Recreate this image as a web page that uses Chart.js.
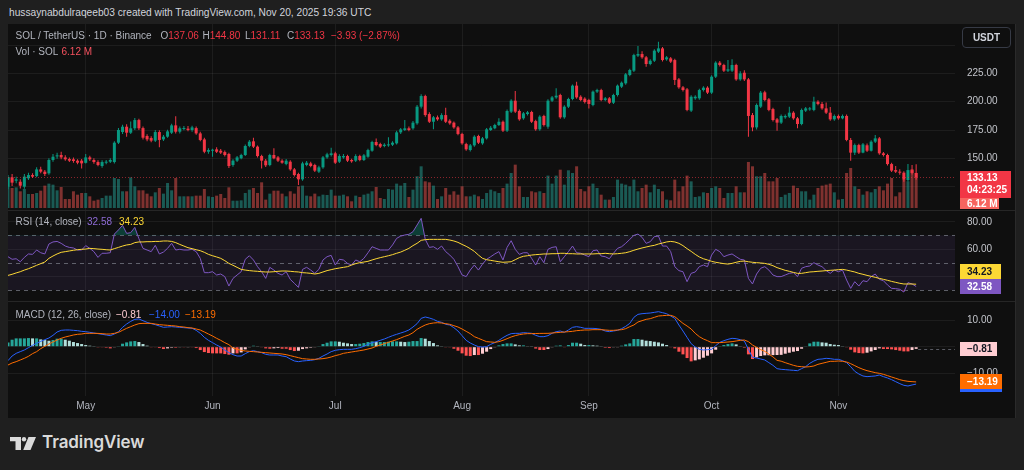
<!DOCTYPE html>
<html><head><meta charset="utf-8"><title>SOL / TetherUS</title>
<script src="https://cdn.jsdelivr.net/npm/chart.js@4.4.1/dist/chart.umd.min.js"></script>
<style>
*{box-sizing:border-box}
html,body{margin:0;padding:0;width:1024px;height:470px;overflow:hidden;background:#1f1f1f;font-family:'Liberation Sans',Arial,sans-serif;}
#frame{position:absolute;left:8px;top:24px;width:1008px;height:394px;background:#0f0f0f;overflow:hidden;border-right:1px solid #2a2a2a;}
#frame canvas{position:absolute;left:0;}
.sep{position:absolute;left:0;width:1008px;height:1px;background:#262626;}
.t{position:absolute;white-space:nowrap;font-size:10px;line-height:12px;}
.g{color:#b2b5be}
.r{color:#f23645}
.box{position:absolute;left:960px;font-size:10px;font-weight:bold;padding-left:7px;white-space:nowrap;}
</style></head><body>
<div class="t" style="left:9px;top:7px;color:#d1d4dc;font-size:10.2px;">hussaynabdulraqeeb03 created with TradingView.com, Nov 20, 2025 19:36 UTC</div>
<div id="frame">
 <canvas id="cPrice" width="1008" height="186" style="top:0"></canvas>
 <canvas id="cRsi" width="1008" height="91" style="top:186px"></canvas>
 <canvas id="cMacd" width="1008" height="117" style="top:277px"></canvas>
 <div class="sep" style="top:186px"></div>
 <div class="sep" style="top:277px"></div>
</div>
<!-- legends -->
<div class="t g" style="left:15.5px;top:30px">SOL / TetherUS · 1D · Binance</div>
<div class="t" style="left:160.5px;top:30px"><span class="g">O</span><span class="r">137.06</span></div>
<div class="t" style="left:202.5px;top:30px"><span class="g">H</span><span class="r">144.80</span></div>
<div class="t" style="left:245px;top:30px"><span class="g">L</span><span class="r">131.11</span></div>
<div class="t" style="left:287px;top:30px"><span class="g">C</span><span class="r">133.13</span></div>
<div class="t r" style="left:331px;top:30px">−3.93 (−2.87%)</div>
<div class="t g" style="left:15.5px;top:46px">Vol · SOL</div>
<div class="t" style="left:61.5px;top:46px;color:#f7525f">6.12 M</div>
<div class="t g" style="left:15.5px;top:216px">RSI (14, close)</div>
<div class="t" style="left:87px;top:216px;color:#8e6bd6">32.58</div>
<div class="t" style="left:119px;top:216px;color:#fdd835">34.23</div>
<div class="t g" style="left:15.5px;top:309px">MACD (12, 26, close)</div>
<div class="t" style="left:116px;top:309px;color:#ffcdd2">−0.81</div>
<div class="t" style="left:149px;top:309px;color:#2962ff">−14.00</div>
<div class="t" style="left:185px;top:309px;color:#ff6d00">−13.19</div>
<div style="position:absolute;left:962px;top:27px;width:49px;height:21px;border:1px solid #363a45;border-radius:4px;color:#d1d4dc;font-size:10px;font-weight:bold;line-height:19px;text-align:center;">USDT</div>
<!-- last value labels -->
<div class="box" id="bPrice" style="width:51px;height:27px;background:#f23645;color:#fff;line-height:12px;padding-top:1px;">133.13<br>04:23:25</div>
<div class="box" id="bVol" style="width:39px;height:11px;background:#f7645f;color:#fff;line-height:11px;">6.12 M</div>
<div class="box" id="bRsiMa" style="width:41px;height:15px;background:#fdd835;color:#131722;line-height:15px;">34.23</div>
<div class="box" id="bRsi" style="width:41px;height:15px;background:#7e57c2;color:#fff;line-height:15px;">32.58</div>
<div class="box" id="bHist" style="width:37px;height:14px;background:#ffcdd2;color:#131722;line-height:14px;">−0.81</div>
<div class="box" id="bSig" style="width:42px;height:15px;background:#ff6d00;color:#fff;line-height:15px;">−13.19</div>
<div class="box" id="bMacd" style="width:42px;height:3px;background:#2962ff;"></div>
<!-- footer logo -->
<svg style="position:absolute;left:10px;top:437px" width="26" height="13" viewBox="0 0 26 13">
 <path d="M0 0H11V13H5.5V4.2H0Z" fill="#dadada"/>
 <circle cx="14" cy="2.2" r="2.2" fill="#dadada"/>
 <path d="M18.5 0H26L20.5 13H13.2Z" fill="#dadada"/>
</svg>
<div style="position:absolute;left:42px;top:431px;font-family:Inter,'Liberation Sans',sans-serif;font-weight:600;font-size:17px;line-height:22px;color:#dadada;letter-spacing:-0.1px;">TradingView</div>

<script>
// ---------------- data ----------------
const startDate = [2025, 3, 12]; // 12 Apr 2025 (UTC)
const monthNames = ['Jan','Feb','Mar','Apr','May','Jun','Jul','Aug','Sep','Oct','Nov','Dec'];

const opens = [
124.9,133.2,130.2,129.3,124.9,132.3,135.2,134.3,140.2,138.2,
136.7,148.5,151.7,152.9,150.8,149.4,149.1,147.9,147.9,146.0,
150.8,148.5,146.7,143.2,146.1,147.0,146.7,163.8,173.2,177.9,
172.6,176.5,183.8,176.7,169.7,167.9,165.6,173.2,166.7,169.1,
172.6,179.1,173.5,175.9,176.2,175.0,176.7,172.0,166.7,155.8,
156.7,157.9,156.7,155.5,153.8,144.1,147.9,150.0,152.9,160.9,
165.0,160.3,152.0,147.9,144.1,152.9,150.8,147.9,145.0,147.0,
140.2,136.1,131.4,144.1,145.5,144.1,138.2,142.0,150.8,152.9,
154.4,147.0,150.8,152.0,148.5,147.9,152.0,148.5,151.4,156.7,
164.4,162.6,160.9,161.4,162.0,163.2,172.9,175.0,176.5,176.5,
180.9,195.6,205.0,189.1,182.3,186.2,184.4,188.2,183.2,181.5,
177.3,171.5,162.6,157.3,161.4,169.7,163.2,167.6,175.0,176.5,
179.4,182.3,174.4,191.2,200.9,191.8,185.3,189.1,190.9,182.9,
175.6,187.4,177.9,200.9,203.8,205.9,186.2,195.6,202.4,214.2,
204.4,202.7,201.5,197.1,208.9,210.3,201.5,203.0,199.1,205.9,
213.3,216.2,223.6,227.4,240.7,242.1,239.2,233.3,236.2,244.2,
247.1,237.4,238.3,236.8,219.7,212.7,210.9,192.1,203.0,203.0,
210.3,212.4,208.0,222.1,234.5,232.4,227.4,227.4,232.4,219.7,
225.6,219.7,188.2,177.3,195.6,208.3,202.1,193.5,184.4,181.5,
186.2,186.8,190.3,185.3,180.3,192.1,193.2,192.7,200.0,198.0,
194.1,190.3,184.4,187.4,185.3,187.4,166.2,155.0,161.7,155.0,
161.5,156.7,164.7,167.6,154.4,152.9,144.9,139.6,138.2,137.3,
130.8,139.6,137.06];

const highs = [
135.2,136.1,133.8,131.4,136.1,137.3,136.7,142.0,142.6,139.6,
150.0,153.8,155.0,155.8,152.6,150.8,150.8,149.1,149.4,153.8,
152.3,150.0,148.2,148.2,148.5,150.0,165.0,176.8,179.7,180.0,
182.6,185.6,185.0,178.2,171.2,169.4,175.0,174.7,170.6,175.3,
180.6,187.1,178.2,178.5,178.5,178.8,178.2,173.5,168.2,158.8,
158.5,159.7,158.2,157.0,155.0,149.1,152.0,154.1,162.3,166.2,
168.2,161.4,153.2,149.4,154.1,158.8,152.0,149.1,149.4,148.2,
141.4,137.3,147.0,147.6,147.0,145.2,143.5,152.0,155.0,159.4,
155.8,153.5,153.8,153.2,149.7,153.5,153.2,153.8,158.5,165.6,
167.6,163.8,163.2,168.5,165.0,174.4,176.8,183.8,178.2,182.9,
197.1,206.5,206.2,190.6,187.4,187.7,189.7,194.7,184.4,182.6,
178.5,172.6,163.8,162.6,170.3,170.9,168.8,176.8,178.5,180.6,
185.3,183.5,193.0,202.1,209.4,193.0,190.9,191.8,192.1,184.1,
188.0,188.5,202.1,205.0,211.8,207.1,196.8,203.6,215.3,217.7,
205.6,203.9,202.7,210.0,211.5,211.5,204.1,204.1,207.1,215.3,
217.9,225.3,229.2,242.4,249.2,244.5,240.4,237.4,246.3,253.0,
248.3,240.4,239.5,238.0,220.9,213.9,212.1,205.6,205.6,211.5,
213.6,213.6,223.3,235.7,236.0,233.6,236.8,237.4,233.6,226.8,
227.7,221.0,190.0,198.5,209.4,209.7,203.3,194.7,185.6,188.6,
188.6,195.6,191.5,186.5,193.9,195.3,195.3,204.4,201.2,199.7,
199.2,195.3,188.6,188.6,188.6,188.6,167.9,163.0,162.9,163.5,
163.0,165.9,170.6,168.8,155.6,154.1,146.1,143.2,140.3,138.5,
144.9,144.1,144.80];

const lows = [
122.6,125.5,127.9,123.4,123.1,130.8,132.6,133.2,136.7,134.3,
135.5,147.0,149.7,149.1,147.9,146.7,146.1,144.7,141.1,145.4,
147.6,145.2,142.9,141.7,144.7,145.8,145.5,162.6,171.5,169.1,
171.5,174.9,175.0,166.7,165.0,164.1,164.4,159.7,165.3,168.2,
171.5,172.0,172.0,174.7,173.8,173.5,170.9,165.0,154.4,154.1,
151.4,154.7,153.8,151.7,141.4,142.6,146.7,149.1,152.0,159.7,
159.1,150.8,141.1,142.3,142.9,149.1,146.7,145.2,143.8,139.0,
134.0,126.4,130.2,142.9,142.0,137.9,137.0,140.8,149.7,151.7,
145.0,145.8,149.7,146.7,146.1,146.7,147.3,147.6,150.5,155.8,
160.6,159.1,159.7,160.3,160.9,162.3,171.5,174.1,173.8,175.3,
179.7,194.1,186.8,181.2,175.6,183.2,183.2,181.2,179.7,176.2,
170.3,162.0,156.7,156.1,160.3,162.6,162.0,166.7,174.1,175.6,
178.5,173.2,173.2,190.0,190.0,183.2,184.1,187.9,181.2,174.4,
174.4,178.2,176.2,199.7,202.6,185.0,185.0,194.4,201.2,202.6,
200.3,198.5,194.1,195.9,207.7,200.3,200.3,198.0,198.0,204.7,
212.1,215.0,222.4,226.2,239.5,238.0,230.9,232.1,235.0,243.0,
235.6,236.2,234.2,214.7,211.5,209.1,191.5,190.9,201.8,201.8,
209.1,206.8,206.8,220.9,231.2,226.2,226.2,226.2,218.5,218.5,
218.3,169.1,174.0,175.5,194.4,200.3,191.5,182.6,174.4,180.3,
185.0,185.6,184.1,176.5,179.1,190.9,192.0,191.5,196.8,192.9,
189.1,183.2,183.2,184.1,184.5,165.0,147.9,152.9,153.8,154.4,
155.5,156.1,163.5,153.2,151.7,143.7,137.9,137.0,135.5,129.3,
129.6,135.8,131.11];

const closes = [
133.2,128.5,131.4,125.8,133.8,135.2,133.8,140.2,138.2,136.1,
148.5,151.4,152.6,150.8,149.1,147.9,147.6,146.1,145.5,150.8,
149.1,146.7,144.1,146.7,147.0,148.5,163.8,175.0,177.9,172.6,
176.5,183.8,176.5,168.2,166.7,165.6,173.2,166.2,169.1,173.8,
179.1,173.5,176.5,176.7,175.0,177.3,172.0,166.2,155.8,157.3,
157.3,155.8,155.0,152.9,143.2,147.9,150.8,152.9,160.9,164.7,
160.3,152.0,147.9,143.8,152.9,150.0,147.9,146.1,147.9,140.2,
135.2,131.4,145.5,146.1,143.2,139.1,142.0,150.8,153.5,154.4,
146.1,152.0,152.0,147.9,147.3,152.0,148.5,152.6,157.3,164.4,
161.7,160.3,162.0,162.3,163.8,172.9,175.6,176.5,175.0,181.5,
195.6,205.0,188.2,182.3,186.2,184.4,188.2,182.3,180.9,177.3,
171.5,163.2,157.9,161.4,169.1,163.8,167.6,175.6,177.0,179.4,
182.3,174.4,191.8,200.9,191.2,184.4,189.7,190.6,182.3,175.6,
186.8,179.4,200.9,203.8,205.3,186.2,195.6,202.4,214.2,203.8,
201.5,199.7,198.0,208.9,210.3,201.5,203.0,199.1,205.9,214.2,
216.8,224.2,228.0,241.2,242.1,239.2,233.3,236.2,245.1,247.1,
236.8,239.2,235.4,219.2,212.7,210.3,192.7,204.4,204.4,210.3,
212.4,208.0,222.1,234.5,232.4,227.4,228.6,232.4,219.7,225.0,
219.7,187.4,177.3,197.1,208.0,201.5,192.7,183.8,181.5,187.4,
187.4,190.3,185.3,180.3,192.7,194.1,194.1,200.0,198.0,194.1,
190.3,184.4,187.4,185.3,187.4,166.2,155.0,161.7,155.0,162.3,
156.7,164.7,167.6,154.4,152.9,144.9,139.1,138.2,137.3,131.4,
139.6,137.06,133.13];

// volume, millions of SOL
const volumes = [
5.42,3.50,3.61,2.92,3.32,2.45,2.45,2.62,3.03,3.91,
4.26,4.08,3.09,3.67,1.57,1.57,2.92,2.33,2.62,2.62,
2.04,1.28,1.46,1.75,2.16,2.16,5.25,5.07,2.92,2.92,
5.36,3.79,3.09,3.09,2.51,2.04,2.74,3.50,2.51,4.37,
3.09,5.25,2.04,2.04,2.04,2.04,2.16,2.16,3.32,2.04,
1.92,2.16,2.45,1.75,3.61,1.28,1.28,1.34,2.62,3.21,
3.50,2.62,4.49,1.46,2.51,3.03,3.03,2.51,2.04,2.92,
2.51,3.79,3.91,2.16,2.04,2.51,2.04,2.33,2.27,3.21,
2.16,2.16,2.33,2.04,1.17,2.16,1.92,2.33,2.51,2.92,
3.67,1.75,1.57,3.32,3.21,4.26,3.91,4.37,1.92,3.21,
5.54,7.29,4.66,4.49,3.91,1.57,2.04,3.50,2.33,2.92,
2.33,3.79,2.04,2.04,2.33,2.04,1.57,2.62,3.21,2.92,
2.62,3.50,4.26,6.12,7.58,3.79,1.92,1.92,2.92,2.74,
2.92,2.62,5.66,4.26,5.66,6.70,4.08,6.59,6.12,7.29,
3.32,2.92,3.79,4.26,3.50,2.33,1.46,1.46,1.92,4.96,
4.26,4.08,3.79,4.96,2.92,3.50,4.08,2.74,4.08,3.32,
2.92,1.46,1.34,4.96,2.92,3.79,5.66,4.66,1.92,2.04,
2.74,2.62,3.50,3.79,3.50,1.75,2.62,2.62,3.79,2.74,
2.74,8.05,7.29,5.54,5.54,6.12,4.66,4.66,5.25,1.92,
2.33,2.62,3.91,3.50,2.92,2.92,1.46,2.33,3.50,3.91,
4.08,4.26,2.74,1.46,1.57,6.12,7.00,3.79,3.32,2.33,
2.92,2.74,3.32,3.79,3.09,4.26,5.25,2.04,2.74,5.07,
4.66,6.82,6.12];

const rsi = [
54.4,52.5,52.9,50.7,53.9,56.4,56.1,59.3,57.3,56.4,
63.7,65.2,65.6,64.2,62.2,61.2,60.8,59.3,59.3,62.5,
60.5,58.1,53.9,56.9,56.9,57.3,71.0,74.0,77.4,71.5,
72.0,75.9,67.6,60.5,59.3,58.1,62.7,56.4,57.8,60.5,
64.2,59.3,59.8,59.3,59.3,59.8,58.1,53.2,42.7,42.7,
43.4,41.0,41.7,39.8,32.9,38.5,41.0,43.4,52.5,55.1,
52.0,47.1,43.4,38.5,46.6,44.6,42.2,41.0,43.4,37.8,
34.9,31.9,45.1,46.6,44.6,42.2,45.1,52.0,54.4,55.4,
48.3,52.5,52.0,49.5,48.3,52.0,50.7,53.2,57.3,61.7,
60.5,59.3,59.3,59.3,63.0,67.8,69.5,70.3,70.8,72.7,
77.6,82.5,67.1,61.2,61.7,59.8,62.2,58.1,55.6,52.5,
47.1,41.0,39.8,44.6,48.3,44.6,49.0,52.5,54.4,56.4,
58.1,52.0,61.2,66.1,59.8,56.1,57.3,57.3,53.2,48.3,
54.4,50.0,59.8,61.2,61.7,50.7,54.4,58.1,62.2,57.3,
56.9,55.6,54.4,58.8,59.3,54.9,54.4,52.9,56.9,60.5,
61.7,64.2,67.1,70.0,71.0,68.6,64.2,65.4,69.1,69.5,
62.2,62.2,58.1,47.1,44.2,43.4,36.1,42.2,43.2,47.1,
48.3,47.1,55.6,59.8,58.1,54.4,55.6,56.4,54.4,52.5,
52.0,38.5,34.4,41.7,45.9,47.1,44.6,41.0,39.8,39.8,
41.0,42.2,42.7,39.8,45.9,47.1,47.6,50.0,48.3,47.1,
44.2,42.2,44.6,43.4,44.6,37.3,31.2,36.1,32.9,36.8,
36.1,39.8,41.7,37.8,36.8,33.7,31.2,31.0,30.5,28.5,
35.4,34.4,32.58];

const rsiMA = [
40.7,41.5,42.5,43.4,44.6,45.6,46.8,48.1,49.3,50.5,
53.2,54.9,56.4,57.6,58.1,58.6,59.1,59.5,59.8,60.0,
60.5,60.3,60.0,59.8,59.5,59.3,60.3,61.2,62.2,63.0,
63.4,64.7,65.2,65.2,65.4,65.4,65.6,65.6,65.9,65.9,
65.6,64.7,63.4,62.2,61.0,60.3,59.5,58.8,57.6,56.1,
55.1,54.2,53.2,51.5,49.5,48.1,46.6,45.1,44.6,44.2,
43.9,43.7,43.4,43.2,43.2,43.4,43.7,43.9,43.9,43.7,
43.4,43.2,42.7,42.5,42.2,41.7,42.2,43.2,44.2,44.9,
45.6,46.1,46.6,47.1,48.3,49.3,50.0,50.5,51.0,52.0,
52.9,53.7,54.4,55.1,55.9,56.9,57.8,59.1,60.5,62.5,
64.2,66.4,66.9,67.1,67.1,67.1,67.1,67.1,66.6,65.9,
64.9,63.4,62.0,60.3,58.3,55.6,53.2,52.2,51.7,51.2,
50.7,50.3,50.5,50.7,52.2,53.7,54.7,55.1,55.6,55.9,
56.1,56.4,56.4,56.6,56.6,56.9,56.9,56.6,56.6,56.4,
56.4,56.4,56.4,56.4,56.6,56.6,56.9,56.6,56.4,56.6,
56.9,57.3,58.1,59.1,60.0,60.8,61.5,62.2,62.7,63.7,
64.4,65.2,65.6,65.2,64.2,62.5,60.3,58.3,56.1,54.2,
52.9,52.0,51.0,50.3,49.8,49.3,49.0,49.5,50.3,51.0,
51.2,50.7,50.3,50.0,49.8,49.5,48.8,47.8,46.4,45.4,
44.4,43.7,42.9,42.2,42.2,42.7,43.2,43.4,43.7,43.9,
44.2,44.4,44.6,44.9,45.1,44.6,43.9,43.2,42.2,41.5,
40.7,40.0,39.3,38.5,37.8,37.1,36.3,35.6,34.9,34.4,
34.4,34.4,34.23];

const macd = [
-5.22,-3.48,-2.48,-1.85,-1.23,-0.36,0.52,1.27,2.01,2.64,
3.26,4.26,5.51,6.13,6.26,6.26,6.13,6.01,5.76,5.63,
5.38,5.13,4.89,4.64,4.39,4.14,4.76,5.63,7.26,8.50,
9.50,10.25,10.38,9.75,9.13,8.63,8.26,7.76,7.26,7.38,
7.51,7.38,7.26,7.13,7.01,6.88,6.13,5.01,3.51,2.39,
1.52,0.64,-0.11,-1.23,-2.23,-2.98,-3.48,-3.48,-2.60,-1.85,
-1.48,-1.85,-2.23,-2.85,-3.10,-3.10,-3.10,-3.48,-3.73,-4.60,
-5.35,-5.60,-5.35,-5.22,-5.10,-4.85,-4.35,-3.48,-2.73,-1.85,
-1.35,-1.11,-0.98,-0.98,-0.98,-0.73,-0.36,0.14,0.89,1.52,
1.89,2.39,2.89,3.51,4.14,4.64,5.13,5.63,6.26,7.38,
8.63,10.63,11.13,10.75,10.25,9.50,9.13,8.38,8.13,7.13,
5.88,4.14,2.39,1.39,0.64,0.02,-0.11,0.02,0.89,1.52,
2.39,3.39,4.26,4.89,5.01,5.01,5.26,5.13,5.01,4.26,
3.76,3.76,4.14,5.01,5.63,5.88,5.38,6.26,7.26,7.51,
7.26,6.88,6.88,6.88,6.76,6.51,5.88,5.63,5.88,6.13,
6.76,7.63,8.75,11.00,12.12,12.37,12.50,12.62,12.87,13.12,
12.75,12.37,11.50,10.63,8.13,5.88,3.51,1.14,-0.11,-0.98,
-1.23,-1.11,-0.98,0.39,1.64,2.26,2.76,3.14,3.01,2.64,
2.14,-0.98,-3.98,-4.23,-4.60,-4.97,-5.97,-6.97,-8.22,-8.47,
-8.59,-8.72,-8.84,-8.97,-8.22,-7.47,-6.22,-5.35,-4.72,-4.60,
-4.35,-4.47,-4.72,-4.72,-5.22,-5.97,-7.47,-9.22,-10.22,-10.96,
-11.21,-11.09,-10.96,-10.59,-11.21,-11.71,-12.34,-13.09,-13.83,-14.46,
-14.71,-14.33,-14.00];

const signal = [
-6.85,-6.10,-5.60,-4.97,-4.35,-3.60,-2.60,-1.85,-0.73,0.14,
1.02,1.77,2.51,3.14,3.64,4.01,4.39,4.64,4.76,5.01,
5.01,5.01,4.99,4.89,4.76,4.76,5.01,5.38,6.13,6.88,
7.51,8.13,8.63,8.75,8.75,8.75,8.50,8.26,8.13,8.01,
7.88,7.76,7.51,7.38,7.13,7.01,6.63,6.26,5.51,4.76,
4.01,3.14,2.39,1.52,0.77,-0.48,-0.98,-1.35,-1.60,-1.73,
-1.85,-1.98,-2.10,-2.23,-2.35,-2.48,-2.60,-2.73,-2.98,-3.35,
-3.73,-4.10,-4.47,-4.60,-4.72,-4.72,-4.60,-4.47,-4.23,-3.85,
-3.35,-2.98,-2.48,-2.23,-1.98,-1.73,-1.48,-1.23,-0.86,-0.48,
0.14,0.64,1.14,1.64,2.14,2.64,3.26,3.89,4.39,5.26,
6.51,7.38,8.13,8.63,8.88,9.00,8.88,8.63,8.38,7.88,
7.38,6.63,5.76,4.89,3.76,3.14,2.51,1.89,1.77,1.64,
1.89,2.39,3.01,3.64,4.14,4.51,4.76,4.89,4.89,4.95,
4.98,5.00,5.01,5.13,5.26,5.38,5.51,5.63,5.76,6.01,
6.13,6.26,6.26,6.38,6.38,6.38,6.26,6.13,6.13,6.26,
6.38,6.76,7.51,8.13,9.25,9.75,10.25,10.50,11.00,11.50,
11.62,11.75,11.75,11.25,10.00,8.75,7.76,6.63,5.01,3.76,
2.89,2.26,1.52,1.52,1.52,1.64,1.77,1.89,2.14,2.39,
2.51,1.89,0.64,-0.23,-1.11,-1.73,-2.77,-3.82,-5.12,-5.42,
-5.97,-6.47,-6.97,-7.35,-7.47,-7.60,-7.47,-7.22,-6.60,-6.22,
-5.85,-5.47,-5.47,-5.35,-5.47,-5.72,-6.35,-7.10,-7.84,-8.47,
-8.97,-9.34,-9.72,-9.97,-10.34,-10.84,-11.34,-11.84,-12.34,-12.71,
-12.96,-13.09,-13.19];

const hist = [
1.62,2.62,3.12,3.12,3.12,3.24,3.12,3.12,2.74,2.50,
2.24,2.50,3.00,3.00,2.62,2.25,1.75,1.37,1.00,0.62,
0.37,0.12,-0.10,-0.25,-0.37,-0.62,-0.25,0.25,1.13,1.62,
1.99,2.12,1.75,1.00,0.38,-0.12,-0.24,-0.50,-0.87,-0.63,
-0.37,-0.38,-0.25,-0.25,-0.12,-0.13,-0.50,-1.25,-2.00,-2.37,
-2.49,-2.50,-2.50,-2.75,-3.00,-2.50,-2.50,-2.13,-1.00,-0.12,
0.37,0.13,-0.13,-0.62,-0.75,-0.62,-0.50,-0.75,-0.75,-1.25,
-1.62,-1.50,-0.88,-0.62,-0.38,-0.13,0.25,0.99,1.50,2.00,
2.00,1.87,1.50,1.25,1.00,1.00,1.12,1.37,1.75,2.00,
1.75,1.75,1.75,1.87,2.00,2.00,1.87,1.74,1.87,2.12,
2.12,3.25,3.00,2.12,1.37,0.50,0.25,-0.25,-0.25,-0.75,
-1.50,-2.49,-3.37,-3.50,-3.12,-3.12,-2.62,-1.87,-0.88,-0.12,
0.50,1.00,1.25,1.25,0.87,0.50,0.50,0.24,0.12,-0.69,
-1.22,-1.24,-0.87,-0.12,0.37,0.50,-0.13,0.63,1.50,1.50,
1.13,0.62,0.62,0.50,0.38,0.13,-0.38,-0.50,-0.25,-0.13,
0.38,0.87,1.24,2.87,2.87,2.62,2.25,2.12,1.87,1.62,
1.13,0.62,-0.25,-0.62,-1.87,-2.87,-4.25,-5.49,-5.12,-4.74,
-4.12,-3.37,-2.50,-1.13,0.12,0.62,0.99,1.25,0.87,0.25,
-0.37,-2.87,-4.62,-4.00,-3.49,-3.24,-3.20,-3.15,-3.10,-3.05,
-2.62,-2.25,-1.87,-1.62,-0.75,0.13,1.25,1.87,1.88,1.62,
1.50,1.00,0.75,0.63,0.25,-0.25,-1.12,-2.12,-2.38,-2.49,
-2.24,-1.75,-1.24,-0.62,-0.87,-0.87,-1.00,-1.25,-1.49,-1.75,
-1.75,-1.24,-0.81];

// axis tick values
const priceTicks = [125, 150, 175, 200, 225, 250];
const priceLabelTicks = [150, 175, 200, 225];
const rsiTicks = [40, 60, 80];
const rsiLabelTicks = [60, 80];
const rsiLevels = [70, 50, 30];
const macdTicks = [-10, 0, 10];
const macdLabelTicks = [-10, 10];

// ---------------- layout (pane ranges) ----------------
const X_RANGE = [1.0, 232.5];
const PRICE_RANGE = [104.33, 268.64];
const VOL_RANGE = [-0.35, 32.17];
const RSI_RANGE = [21.94, 88.61];
const MACD_RANGE = [-18.46, 17.12];
const AXIS_W = 61;

const N = closes.length;
const idx = closes.map((_, k) => k + 1);
const dates = idx.map(i => new Date(Date.UTC(startDate[0], startDate[1], startDate[2] + i - 1)));
const monthTicks = [];
dates.forEach((d, k) => { if (d.getUTCDate() === 1) monthTicks.push({ value: k + 1, label: monthNames[d.getUTCMonth()] }); });

const UP = '#089981', DN = '#f23645';
const candleCol = idx.map((_, k) => closes[k] >= opens[k] ? UP : DN);
const volCol = idx.map((_, k) => closes[k] >= opens[k] ? 'rgba(38,166,154,0.5)' : 'rgba(239,83,80,0.5)');
const histCol = hist.map((h, k) => {
  const p = k > 0 ? hist[k - 1] : h;
  return h >= 0 ? (h >= p ? '#26a69a' : '#b2dfdb') : (h <= p ? '#ff5252' : '#ffcdd2');
});
const pts = arr => arr.map((v, k) => ({ x: idx[k], y: v }));
const fmt = v => (v < 0 ? '\u2212' : '') + Math.abs(v).toFixed(2);

Chart.defaults.font.family = "'Liberation Sans', Arial, sans-serif";
Chart.defaults.font.size = 10;
Chart.defaults.color = '#b2b5be';

const GRID = 'rgba(255,255,255,0.06)';
function xScale(showLabels) {
  return {
    type: 'linear', min: X_RANGE[0], max: X_RANGE[1], offset: false,
    afterBuildTicks: s => { s.ticks = monthTicks.map(t => ({ value: t.value })); },
    ticks: { display: showLabels, autoSkip: false, maxRotation: 0, padding: 4, color: '#b2b5be',
      callback: v => { const t = monthTicks.find(m => m.value === v); return t ? t.label : ''; } },
    grid: { color: GRID, drawTicks: false, offset: false },
    border: { display: false },
    afterFit: s => { s.height = showLabels ? 22 : 0; s.paddingLeft = 0; s.paddingRight = 0; }
  };
}
function yScale(range, ticks, labelTicks) {
  return {
    position: 'right', min: range[0], max: range[1],
    afterBuildTicks: s => { s.ticks = ticks.map(v => ({ value: v })); },
    ticks: { color: '#c3c5cb', padding: 12, callback: v => labelTicks.includes(v) ? fmt(v) : '' },
    grid: { color: GRID, drawTicks: false },
    border: { display: false },
    afterFit: s => { s.width = AXIS_W; s.paddingTop = 0; s.paddingBottom = 0; }
  };
}
const base = {
  responsive: false, animation: false, devicePixelRatio: 1, events: [],
  layout: { padding: 0 },
  plugins: { legend: { display: false }, tooltip: { enabled: false } }
};
function hLine(ctx, x0, x1, y, color, dash) {
  ctx.save(); ctx.strokeStyle = color; ctx.lineWidth = 1; ctx.setLineDash(dash);
  ctx.beginPath(); ctx.moveTo(x0, Math.round(y) + 0.5); ctx.lineTo(x1, Math.round(y) + 0.5); ctx.stroke();
  ctx.restore();
}

// ---------------- price + volume ----------------
const priceChart = new Chart(document.getElementById('cPrice'), {
  data: { datasets: [
    { type: 'bar', yAxisID: 'yv', data: pts(volumes), backgroundColor: volCol, barThickness: 3, grouped: false, inflateAmount: 0, order: 3 },
    { type: 'bar', yAxisID: 'y', data: idx.map((x, k) => ({ x, y: [lows[k], highs[k]] })), backgroundColor: candleCol, barThickness: 1, grouped: false, inflateAmount: 0, order: 2 },
    { type: 'bar', yAxisID: 'y', data: idx.map((x, k) => ({ x, y: [opens[k], closes[k]] })), backgroundColor: candleCol, barThickness: 3, minBarLength: 1, grouped: false, inflateAmount: 0, order: 1 }
  ] },
  options: Object.assign({}, base, {
    scales: {
      x: xScale(false),
      y: yScale(PRICE_RANGE, priceTicks, priceLabelTicks),
      yv: { display: false, min: VOL_RANGE[0], max: VOL_RANGE[1] }
    }
  }),
  plugins: [{ id: 'lastPrice', afterDatasetsDraw(c) {
    const a = c.chartArea;
    hLine(c.ctx, a.left, a.right, c.scales.y.getPixelForValue(closes[N - 1]), 'rgba(242,54,69,0.55)', [1, 2]);
  } }]
});

// ---------------- RSI ----------------
const rsiChart = new Chart(document.getElementById('cRsi'), {
  type: 'line',
  data: { datasets: [
    { data: pts(rsiMA), borderColor: '#fdd835', borderWidth: 1, pointRadius: 0, fill: false, order: 1 },
    { data: pts(rsi), borderColor: '#7e57c2', borderWidth: 1, pointRadius: 0, order: 2,
      fill: { target: { value: rsiLevels[0] }, above: 'rgba(8,153,129,0.35)', below: 'rgba(0,0,0,0)' } },
    { data: pts(rsi), borderColor: 'rgba(0,0,0,0)', borderWidth: 0, pointRadius: 0, order: 3,
      fill: { target: { value: rsiLevels[2] }, above: 'rgba(0,0,0,0)', below: 'rgba(242,54,69,0.35)' } }
  ] },
  options: Object.assign({}, base, {
    scales: { x: xScale(false), y: yScale(RSI_RANGE, rsiTicks, rsiLabelTicks) }
  }),
  plugins: [{ id: 'rsiBand', beforeDatasetsDraw(c) {
    const s = c.scales.y, a = c.chartArea, ctx = c.ctx;
    const y1 = s.getPixelForValue(rsiLevels[0]), y3 = s.getPixelForValue(rsiLevels[2]);
    ctx.save(); ctx.fillStyle = 'rgba(126,87,194,0.1)'; ctx.fillRect(a.left, y1, a.right - a.left, y3 - y1); ctx.restore();
    rsiLevels.forEach(l => hLine(ctx, a.left, a.right, s.getPixelForValue(l), 'rgba(120,123,134,0.75)', [4, 4]));
  } }]
});

// ---------------- MACD ----------------
const macdChart = new Chart(document.getElementById('cMacd'), {
  data: { datasets: [
    { type: 'bar', data: pts(hist), backgroundColor: histCol, barThickness: 3, grouped: false, inflateAmount: 0, order: 3 },
    { type: 'line', data: pts(macd), borderColor: '#2962ff', borderWidth: 1, pointRadius: 0, fill: false, order: 2 },
    { type: 'line', data: pts(signal), borderColor: '#ff6d00', borderWidth: 1, pointRadius: 0, fill: false, order: 1 }
  ] },
  options: Object.assign({}, base, {
    scales: { x: xScale(true), y: yScale(MACD_RANGE, macdTicks, macdLabelTicks) }
  }),
  plugins: [{ id: 'histLine', beforeDatasetsDraw(c) {
    const a = c.chartArea;
    hLine(c.ctx, c.scales.x.getPixelForValue(idx[N - 1]) + 2, a.right, c.scales.y.getPixelForValue(hist[N - 1]), 'rgba(120,123,134,0.7)', [3, 3]);
  } }]
});

// ---------------- value labels on the scales ----------------
const FRAME_TOP = 24;
function place(id, top) { document.getElementById(id).style.top = top + 'px'; }
const pY = FRAME_TOP + priceChart.scales.y.getPixelForValue(closes[N - 1]);
place('bPrice', pY - 6.5);
place('bVol', pY - 6.5 + 27.5);
const rY = FRAME_TOP + 186 + rsiChart.scales.y.getPixelForValue(rsi[N - 1]);
place('bRsi', rY - 7.5);
place('bRsiMa', rY - 7.5 - 15);
const mTop = FRAME_TOP + 277;
place('bHist', mTop + macdChart.scales.y.getPixelForValue(hist[N - 1]) - 7);
const sY = mTop + macdChart.scales.y.getPixelForValue(signal[N - 1]);
place('bSig', sY - 7.5);
place('bMacd', sY + 7.5);
</script>
</body></html>
